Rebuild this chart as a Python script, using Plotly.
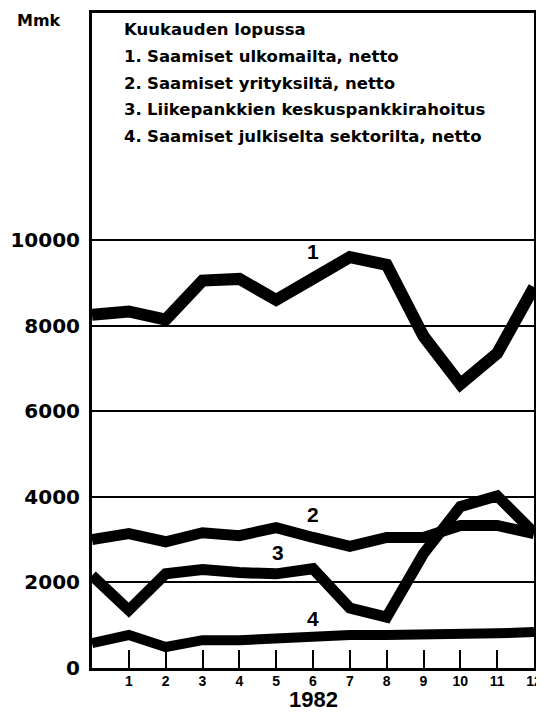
import plotly.graph_objects as go

# ---- data ----
months = list(range(0, 13))
month_ticks = list(range(1, 13))
month_labels = [str(m) for m in month_ticks]
s1 = [8250, 8330, 8140, 9050, 9090, 8600, 9100, 9600, 9420, 7750, 6630, 7350, 8900]
s2 = [3000, 3140, 2950, 3160, 3090, 3280, 3050, 2840, 3050, 3050, 3330, 3330, 3140]
s3 = [2160, 1350, 2200, 2300, 2230, 2200, 2320, 1400, 1190, 2670, 3770, 4020, 3160]
s4 = [580, 770, 490, 650, 650, 700, 740, 770, 770, 770, 790, 810, 840]
y_ticks = [0, 2000, 4000, 6000, 8000, 10000]
y_labels = [str(v) for v in y_ticks]
unit = "Mmk"
year = "1982"
legend_title = "Kuukauden lopussa"
legend_nums = ["1.", "2.", "3.", "4."]
legend_items = [
    "Saamiset ulkomailta, netto",
    "Saamiset yrityksiltä, netto",
    "Liikepankkien keskuspankkirahoitus",
    "Saamiset julkiselta sektorilta, netto",
]
series_tags = ["1", "2", "3", "4"]
tag_x = [6, 6, 5.06, 6]
tag_y = [9720, 3580, 2700, 1160]

ARIAL = "Liberation Sans, Arial, Helvetica, sans-serif"
WIDE = "DejaVu Sans, Verdana, sans-serif"

# page geometry (the page body has an 8px margin)
PL, PR, PT, PB = 91, 537, 10, 668
W, H = 536, 705


def px(X):
    return (X - PL) / (PR - PL)


def py(Y):
    return (PB - Y) / (PB - PT)


fig = go.Figure()
for ys, w in zip([s1, s2, s3, s4], [12, 11, 11, 10]):
    fig.add_trace(go.Scatter(x=months, y=ys, mode="lines",
                             line=dict(color="black", width=w),
                             showlegend=False, hoverinfo="skip"))

ann = []
for t, xx, yy in zip(series_tags, tag_x, tag_y):
    ann.append(dict(x=xx, y=yy, xref="x", yref="y", text=t, showarrow=False,
                    font=dict(family=ARIAL, size=21, color="black", weight="bold")))

# legend text block inside plot
line_y = [27, 54, 81, 107, 134]
lf = dict(family=WIDE, size=16.5, color="black", weight="bold")
ann.append(dict(x=px(121), y=py(line_y[0]), xref="paper", yref="paper", text=legend_title,
                xanchor="left", yanchor="middle", showarrow=False, font=lf))
for i, (n, t) in enumerate(zip(legend_nums, legend_items)):
    yy = py(line_y[i + 1])
    ann.append(dict(x=px(121), y=yy, xref="paper", yref="paper", text=n,
                    xanchor="left", yanchor="middle", showarrow=False, font=lf))
    ann.append(dict(x=px(144), y=yy, xref="paper", yref="paper", text=t,
                    xanchor="left", yanchor="middle", showarrow=False, font=lf))

ann.append(dict(x=px(38), y=py(18), xref="paper", yref="paper", text=unit,
                xanchor="center", yanchor="middle", showarrow=False,
                font=dict(family=WIDE, size=16, color="black", weight="bold")))
ann.append(dict(x=6, y=0, xref="x", yref="paper", text=year, yanchor="bottom",
                yshift=-(713 - PB), showarrow=False, borderpad=0,
                font=dict(family=ARIAL, size=22, color="black", weight="bold")))

fig.update_layout(
    width=W, height=H,
    margin=dict(l=PL - 8, r=W - (PR - 8), t=PT - 8, b=H - (PB - 8)),
    paper_bgcolor="white", plot_bgcolor="white",
    annotations=ann,
    xaxis=dict(range=[0, 12], showline=True, linewidth=3, linecolor="black", mirror=True,
               ticks="inside", ticklen=18, tickwidth=2, tickcolor="black",
               tickvals=month_ticks, ticktext=month_labels, showgrid=False, zeroline=False,
               ticklabeloverflow="allow", ticklabelstandoff=-2,
               tickfont=dict(family=ARIAL, size=14, color="black", weight="bold")),
    yaxis=dict(range=[0, 15302], showline=True, linewidth=3, linecolor="black", mirror=True,
               ticks="", tickvals=y_ticks, ticktext=y_labels, showgrid=True,
               gridcolor="black", gridwidth=2, zeroline=False, ticklabelstandoff=5,
               tickfont=dict(family=WIDE, size=20, color="black", weight="bold")),
)

fig.write_html("out.html")
